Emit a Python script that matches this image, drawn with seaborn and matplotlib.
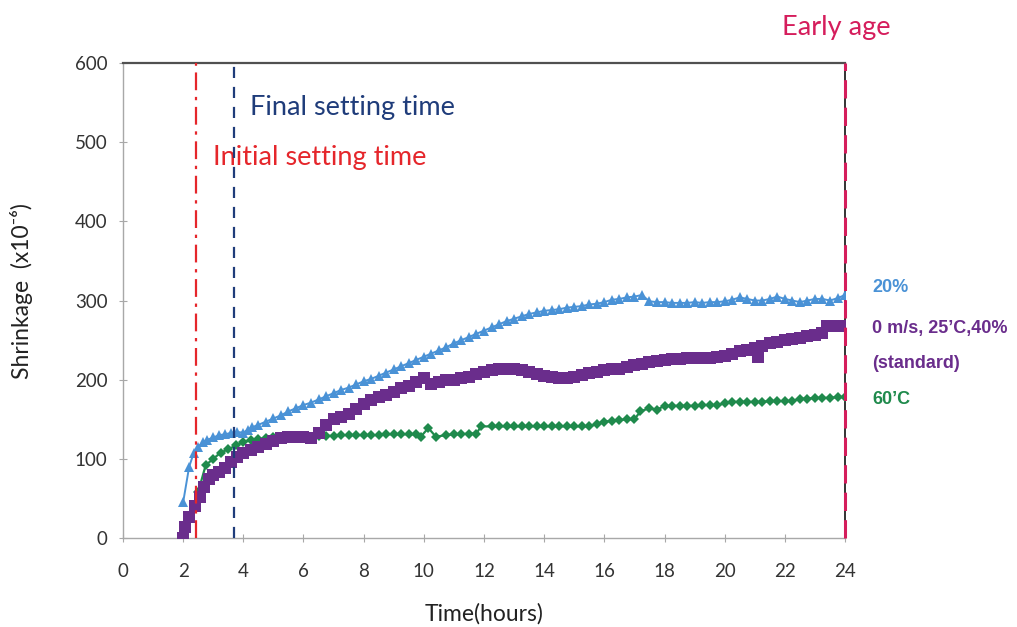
import matplotlib
matplotlib.use("Agg")
import matplotlib.pyplot as plt
import seaborn as sns
import pandas as pd

# ---------------- data ----------------
hours_20 = [2.0, 2.2, 2.35, 2.5, 2.65, 2.8, 3.0, 3.2, 3.4, 3.6, 3.8, 4.0, 4.15, 4.3, 4.5, 4.75,
            5.0, 5.25, 5.5, 5.75, 6.0, 6.25, 6.5, 6.75, 7.0, 7.25, 7.5, 7.75, 8.0, 8.25, 8.5, 8.75,
            9.0, 9.25, 9.5, 9.75, 10.0, 10.25, 10.5, 10.75, 11.0, 11.25, 11.5, 11.75, 12.0, 12.25,
            12.5, 12.75, 13.0, 13.25, 13.5, 13.75, 14.0, 14.25, 14.5, 14.75, 15.0, 15.25, 15.5,
            15.75, 16.0, 16.25, 16.5, 16.75, 17.0, 17.25, 17.5, 17.75, 18.0, 18.25, 18.5, 18.75,
            19.0, 19.25, 19.5, 19.75, 20.0, 20.25, 20.5, 20.75, 21.0, 21.25, 21.5, 21.75, 22.0,
            22.25, 22.5, 22.75, 23.0, 23.25, 23.5, 23.75, 24.0]
shrink_20 = [45, 90, 107, 115, 121, 124, 127, 130, 131, 133, 134, 133, 137, 140, 143, 147,
             151, 155, 160, 164, 168, 171, 175, 179, 183, 187, 190, 194, 198, 201, 205, 209,
             213, 217, 221, 225, 229, 233, 237, 241, 246, 250, 254, 258, 262, 266,
             270, 274, 277, 280, 283, 285, 287, 288, 289, 291, 292, 293, 295,
             296, 298, 301, 302, 304, 305, 307, 299, 298, 298, 297, 297, 297,
             298, 297, 298, 298, 299, 301, 304, 302, 300, 300, 302, 305, 302,
             300, 298, 300, 302, 302, 300, 303, 307]

hours_std = [2.0, 2.05, 2.2, 2.4, 2.55, 2.7, 2.85, 3.0, 3.2, 3.4, 3.6, 3.8, 4.0, 4.25, 4.5, 4.75,
             5.0, 5.25, 5.5, 5.75, 6.0, 6.25, 6.5, 6.75, 7.0, 7.25, 7.5, 7.75, 8.0, 8.25, 8.5, 8.75,
             9.0, 9.25, 9.5, 9.75, 10.0, 10.25, 10.5, 10.75, 11.0, 11.25, 11.5, 11.75, 12.0, 12.25,
             12.5, 12.75, 13.0, 13.25, 13.5, 13.75, 14.0, 14.25, 14.5, 14.75, 15.0, 15.25, 15.5,
             15.75, 16.0, 16.25, 16.5, 16.75, 17.0, 17.25, 17.5, 17.75, 18.0, 18.25, 18.5, 18.75,
             19.0, 19.25, 19.5, 19.75, 20.0, 20.25, 20.5, 20.75, 21.0, 21.1, 21.25, 21.5, 21.75,
             22.0, 22.25, 22.5, 22.75, 23.0, 23.25, 23.4, 23.75, 24.0]
shrink_std = [0, 14, 27, 40, 52, 65, 74, 79, 84, 88, 96, 102, 107, 111, 115, 119,
              123, 126, 128, 128, 127, 126, 133, 143, 150, 153, 157, 163, 169, 174, 178, 181,
              185, 189, 192, 197, 202, 194, 197, 199, 200, 202, 204, 207, 210, 212,
              213, 213, 213, 212, 210, 207, 205, 203, 202, 202, 204, 206, 208,
              210, 212, 213, 214, 216, 218, 220, 222, 223, 225, 226, 226, 227,
              227, 228, 228, 229, 230, 233, 236, 238, 240, 229, 243, 246, 248,
              250, 252, 253, 255, 257, 259, 268, 268, 268]

hours_60 = [2.5, 2.75, 3.0, 3.25, 3.5, 3.75, 4.0, 4.25, 4.5, 4.75, 5.0, 5.25, 5.5, 5.75, 6.0,
            6.25, 6.5, 6.75, 7.0, 7.25, 7.5, 7.75, 8.0, 8.25, 8.5, 8.75, 9.0, 9.25, 9.5, 9.75,
            9.9, 10.15, 10.4, 10.75, 11.0, 11.25, 11.5, 11.75, 11.9, 12.25, 12.5, 12.75, 13.0,
            13.25, 13.5, 13.75, 14.0, 14.25, 14.5, 14.75, 15.0, 15.25, 15.5, 15.75, 16.0, 16.25,
            16.5, 16.75, 17.0, 17.2, 17.5, 17.75, 18.0, 18.25, 18.5, 18.75, 19.0, 19.25, 19.5,
            19.75, 20.0, 20.25, 20.5, 20.75, 21.0, 21.25, 21.5, 21.75, 22.0, 22.25, 22.5, 22.75,
            23.0, 23.25, 23.5, 23.75, 24.0]
shrink_60 = [58, 92, 100, 108, 112, 117, 121, 124, 125, 126, 127, 127, 128, 128, 128,
             128, 129, 129, 129, 130, 130, 130, 130, 130, 130, 131, 131, 131, 131, 131,
             128, 139, 128, 130, 131, 131, 132, 132, 141, 141, 141, 141, 141,
             141, 141, 141, 141, 141, 141, 141, 141, 141, 141, 144, 147, 148,
             149, 150, 150, 160, 164, 162, 167, 167, 167, 167, 167, 168, 168,
             168, 170, 172, 172, 172, 172, 172, 173, 173, 173, 173, 176, 176,
             177, 177, 177, 178, 178]

series_labels = ["20%", "0 m/s, 25\u2019C,40%", "(standard)", "60\u2019C"]
initial_setting = 2.43
final_setting = 3.69
early_age = 24
x_ticks = list(range(0, 25, 2))
y_ticks = list(range(0, 601, 100))

# ---------------- style ----------------
sns.set_theme(style="white")
plt.rcParams["font.family"] = ["Lato", "DejaVu Sans"]

c_blue = "#4a92d6"
c_purple = "#6a2d8c"
c_green = "#1f8a4c"
c_red = "#e5262b"
c_navy = "#1f3c7a"
c_crimson = "#d51d5c"

fig = plt.figure(figsize=(10.17, 6.27), dpi=100)
ax = fig.add_axes([0.1209, 0.1419, 0.7100, 0.7576])

df20 = pd.DataFrame({"h": hours_20, "s": shrink_20})
dfstd = pd.DataFrame({"h": hours_std, "s": shrink_std})
df60 = pd.DataFrame({"h": hours_60, "s": shrink_60})

sns.lineplot(data=df60, x="h", y="s", ax=ax, color=c_green, marker="D", markersize=5.5,
             markeredgewidth=0, linewidth=1.6, estimator=None, sort=False, zorder=3)
sns.lineplot(data=dfstd, x="h", y="s", ax=ax, color=c_purple, marker="s", markersize=8,
             markeredgewidth=0, linewidth=1.6, estimator=None, sort=False, zorder=4)
sns.lineplot(data=df20, x="h", y="s", ax=ax, color=c_blue, marker="^", markersize=7.5,
             markeredgewidth=0, linewidth=1.4, estimator=None, sort=False, zorder=5)

# reference vertical lines
ax.axvline(initial_setting, color=c_red, lw=1.6, dashes=(8, 3, 1.5, 3), zorder=6)
ax.axvline(final_setting, color=c_navy, lw=1.6, dashes=(5, 4), zorder=6)
ax.axvline(early_age, color=c_crimson, lw=2.2, dashes=(6, 3), zorder=7, clip_on=False)

ax.set_xlim(0, 24)
ax.set_ylim(0, 600)
ax.set_xticks(x_ticks)
ax.set_yticks(y_ticks)

for side in ["left", "bottom"]:
    ax.spines[side].set_color("#a8a8a8")
    ax.spines[side].set_linewidth(1.0)
ax.spines["top"].set_color("#505050")
ax.spines["top"].set_linewidth(1.6)
ax.spines["right"].set_color("#111111")
ax.spines["right"].set_linewidth(1.2)

ax.tick_params(axis="x", which="major", direction="inout", length=6, width=0.8,
               color="#a8a8a8", pad=15, labelsize=13.5, labelcolor="#333333")
ax.tick_params(axis="y", which="major", direction="inout", length=6, width=0.8,
               color="#a8a8a8", pad=8, labelsize=13.5, labelcolor="#333333")
ax.xaxis.set_ticks_position("bottom")
ax.yaxis.set_ticks_position("left")

ax.set_xlabel("Time(hours)", fontsize=16.5, color="#222222")
ax.xaxis.set_label_coords(0.5, -0.136)
ax.set_ylabel("Shrinkage  (x10\u207b\u2076)", fontsize=16.5, color="#222222")
ax.yaxis.set_label_coords(-0.125, 0.52)

# annotations
ax.text(4.22, 544, "Final setting time", color=c_navy, fontsize=19.5, va="center", ha="left")
ax.text(2.99, 481, "Initial setting time", color=c_red, fontsize=19.5, va="center", ha="left")
ax.text(23.7, 645, "Early age", color=c_crimson, fontsize=19.5, va="center", ha="center",
        clip_on=False)

lab_font = ["Liberation Sans", "DejaVu Sans"]
ax.text(24.9, 317, series_labels[0], color=c_blue, fontsize=13, fontweight="bold",
        va="center", ha="left", family=lab_font, clip_on=False)
ax.text(24.9, 265, series_labels[1], color=c_purple, fontsize=13, fontweight="bold",
        va="center", ha="left", family=lab_font, clip_on=False)
ax.text(24.9, 221, series_labels[2], color=c_purple, fontsize=13, fontweight="bold",
        va="center", ha="left", family=lab_font, clip_on=False)
ax.text(24.9, 175.5, series_labels[3], color=c_green, fontsize=13, fontweight="bold",
        va="center", ha="left", family=lab_font, clip_on=False)

fig.savefig("out.png", dpi=100, facecolor="white")
